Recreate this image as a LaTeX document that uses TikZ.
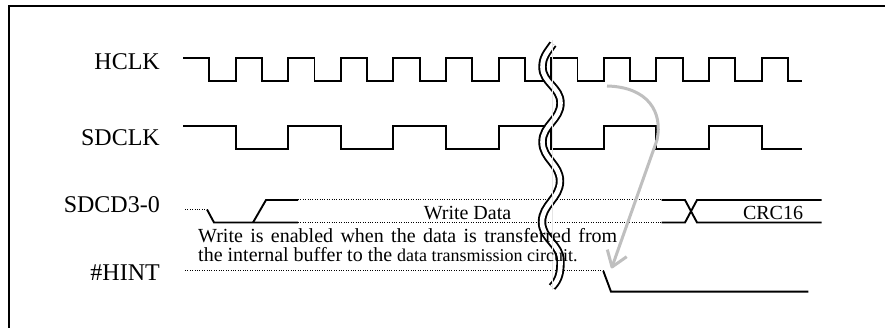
\documentclass[tikz,border=0pt]{standalone}
\usepackage{fontspec}
\setmainfont{Liberation Serif}

\begin{document}
\begin{tikzpicture}[x=1pt,y=1pt]
        \tikzstyle{every node}+=[inner sep=0pt]
        \tikzstyle{wave}=[black, line width=1.9pt]
        \tikzstyle{dots}=[black, line width=1pt, dash pattern=on 1pt off 1.4pt]
        \tikzstyle{siglabel}=[font=\fontsize{24}{24}\selectfont, anchor=base east]
        \tikzstyle{txt}=[font=\fontsize{20}{20}\selectfont]
        \useasboundingbox (0,0) rectangle (885,-328);
        \draw [black, line width=2pt] (9,-328) -- (9,-6) -- (885,-6);
        \node (hclk) [siglabel] at (160,-70) {HCLK};
        \node (sdclk) [siglabel] at (160,-146) {SDCLK};
        \node (sdcd) [siglabel] at (160,-212.5) {SDCD3-0};
        \node (hint) [siglabel] at (160,-280) {\#HINT};
        \draw [wave] (183,-58) -| (209.3,-81) -| (235.6,-58) -| (261.9,-81) -| (288.2,-58) -| (314.5,-81) -| (340.8,-58) -| (367.1,-81) -| (393.4,-58) -| (419.7,-81) -| (446,-58) -| (472.3,-81) -| (498.6,-58) -| (524.9,-81) -| (551.2,-58) -| (577.5,-81) -| (603.8,-58) -| (630.1,-81) -| (656.4,-58) -| (682.7,-81) -| (709,-58) -| (735.3,-81) -| (761.6,-58) -| (787.9,-81) -- (801.7,-81);
        \draw [wave] (183,-126) -| (235.6,-148.7) -| (288.2,-126) -| (340.8,-148.7) -| (393.4,-126) -| (446,-148.7) -| (498.6,-126) -| (551.2,-148.7) -| (603.8,-126) -| (656.4,-148.7) -| (709,-126) -| (761.6,-148.7) -- (801.7,-148.7);
        \draw [dots] (185,-209.5) -- (207,-209.5);
        \draw [wave] (207,-209.5) -- (214,-222.5) -- (298,-222.5);
        \draw [wave] (253,-222.5) -- (266,-200) -- (298,-200);
        \draw [dots] (298,-200) -- (661.7,-200);
        \draw [dots] (298,-222.5) -- (661.7,-222.5);
        \draw [wave] (661.7,-200) -- (685,-200) -- (697,-222.5) -- (821.7,-222.5);
        \draw [wave] (661.7,-222.5) -- (685,-222.5) -- (697,-200) -- (821.7,-200);
        \draw [dots] (185,-271) -- (603.3,-271);
        \draw [wave] (603.3,-271) -- (611,-291.7) -- (808.3,-291.7);
        \draw [black, line width=1.9pt, double=white, double distance=4.6pt] (553,-44) to[out=235,in=90] (542.5,-67) to[out=-90,in=90] (560.5,-103) to[out=-90,in=90] (542.5,-142) to[out=-90,in=90] (560,-181) to[out=-90,in=90] (542,-222) to[out=-90,in=90] (560.5,-261) to[out=-90,in=45] (552,-287);
        \draw [black!10, line width=0.6pt] (552,-40) -- (552,-290);
        \node (wdata) [txt, anchor=base] at (467.5,-220) {Write Data};
        \node (crc) [txt, anchor=base] at (773,-220) {CRC16};
        \node (note1) [txt, anchor=base west] at (198,-243) {\makebox[419pt][s]{Write is enabled when the data is transferred from}};
        \node (note2) [txt, anchor=base west] at (198,-261.7) {the internal buffer to the {\fontsize{18}{18}\selectfont data transmission circuit.}};
        \draw [black!25, line width=3pt] (607,-86) .. controls (648,-87) and (663,-112) .. (657,-140) -- (612,-267);
        \draw [black!25, line width=3pt, line join=round] (607.3,-249.6) -- (612,-267) -- (626.7,-256.7);
\end{tikzpicture}
\end{document}
